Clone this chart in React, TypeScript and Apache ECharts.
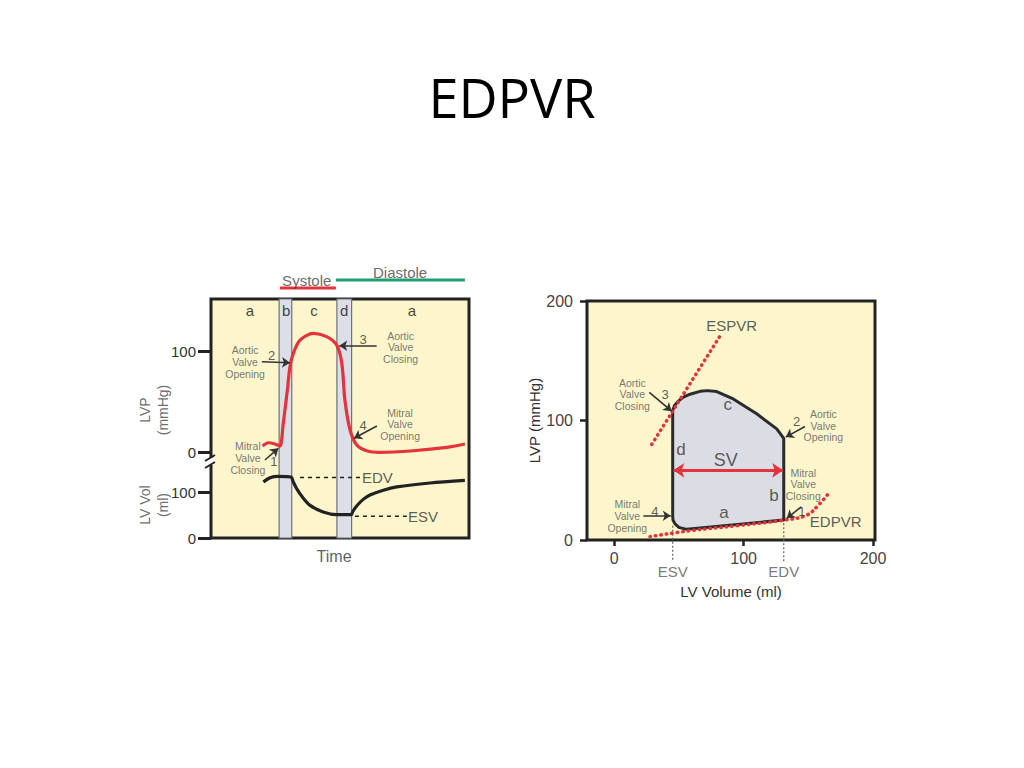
import React, { useEffect, useRef } from "react";
import * as echarts from "echarts";

// ---------- Left panel: LV pressure and LV volume against time ----------
const lvpTime = [20.0, 22.2, 24.8, 26.7, 28.0, 29.6, 30.6, 31.9, 34.5, 39.7, 44.8, 48.7, 50.7, 51.9, 53.9, 56.5, 60.3, 65.5, 78.4, 91.4, 98.4];
const lvpValues = [5.9, 9.2, 7.9, 5.9, 28.4, 61.4, 84.5, 97.7, 110.9, 117.5, 114.2, 105.9, 87.8, 51.5, 21.8, 6.9, 1.3, -0.3, 1.3, 4.6, 7.9];

const volTime = [20.3, 22.9, 26.1, 31.0, 31.9, 33.2, 35.2, 38.4, 43.5, 48.7, 54.3, 55.0, 56.6, 59.0, 61.6, 66.8, 72.0, 84.9, 98.4];
const volValues = [121.7, 131, 134, 132.6, 121.7, 107.4, 90.7, 71, 56.5, 50.8, 50.8, 58.0, 70.5, 84.0, 93.5, 104.0, 111, 119.6, 125.4];

const phaseBands = [
  { name: "b", from: 26.4, to: 31.3 },
  { name: "d", from: 48.8, to: 54.5 },
];
const phaseLetters = ["a", "b", "c", "d", "a"];
const phaseLetterTime = [15.1, 29.1, 39.9, 51.6, 77.9];

const edvLeft = 131.3;
const esvLeft = 47.2;

const lvpTicks = [0, 100];
const volTicks = [0, 100];

// ---------- Right panel: pressure-volume loop ----------
const loopVolume = [45.2, 45.2, 46.6, 49.5, 53.5, 58.6, 66.3, 72.0, 79.2, 92.0, 110.1, 125.6, 131.0, 131.0, 56.0, 50.0, 47.0, 45.5];
const loopPressure = [19.4, 108.3, 112.5, 116.2, 119.6, 122.0, 124.4, 125.0, 124.2, 118.0, 105.6, 93.0, 85.0, 16.7, 8.9, 10.6, 13.5, 16.5];

const espvrVolume = [29.0, 81.8];
const espvrPressure = [80, 170.8];

const edpvrVolume = [27.7, 58.6, 95, 131.5, 148.8, 159, 165.5];
const edpvrPressure = [2.8, 7.8, 12, 16.7, 20.8, 30.6, 38.9];

const esvRight = 45.2;
const edvRight = 131.0;
const svPressure = 58.3;

const pvTicks = [0, 100, 200];

// ---------- styles ----------
const FONT = "'Liberation Sans', Arial, sans-serif";
const RED = "#e5323b";
const GREEN = "#1f9e74";
const INK = "#222222";
const NOTE = "#555555";
const CREAM = "#fdf6cc";
const BAND = "#dcdfe7";

type Note = { x: number; y: number; text: string; size: number; color?: string; lh?: number; align?: string; rotate?: number };

function textSeries(xIdx: number, yIdx: number, items: Note[]) {
  return {
    type: "scatter",
    xAxisIndex: xIdx,
    yAxisIndex: yIdx,
    symbolSize: 0,
    clip: false,
    silent: true,
    z: 20,
    data: items.map((it) => ({
      value: [it.x, it.y],
      label: {
        show: true,
        position: "inside",
        formatter: it.text,
        fontSize: it.size,
        color: it.color ?? NOTE,
        fontFamily: FONT,
        lineHeight: it.lh ?? Math.round(it.size * 1.15),
        align: it.align ?? "center",
        verticalAlign: "middle",
        rotate: it.rotate ?? 0,
      },
    })),
  };
}

function arrowSeries(xIdx: number, yIdx: number, arrows: number[][][], color: string, width: number, both = false, size = 8) {
  return {
    type: "lines",
    coordinateSystem: "cartesian2d",
    xAxisIndex: xIdx,
    yAxisIndex: yIdx,
    silent: true,
    z: 15,
    symbol: both ? ["arrow", "arrow"] : ["none", "arrow"],
    symbolSize: size,
    lineStyle: { color, width, opacity: 1, curveness: 0 },
    data: arrows.map((a) => ({ coords: a })),
  };
}

function lineSeries(xIdx: number, yIdx: number, xs: number[], ys: number[], style: any, smooth: any = false, z = 5) {
  return {
    type: "line",
    xAxisIndex: xIdx,
    yAxisIndex: yIdx,
    data: xs.map((x, i) => [x, ys[i]]),
    showSymbol: false,
    symbol: "none",
    smooth,
    clip: false,
    silent: true,
    z,
    lineStyle: style,
  };
}

const tickLabel = { fontSize: 15, color: "#333", fontFamily: FONT };

export default function App() {
  const ref = useRef<HTMLDivElement>(null);

  useEffect(() => {
    document.body.style.margin = "0";
    if (!ref.current) return;
    const chart = echarts.init(ref.current, undefined, { renderer: "svg" });

    const option: any = {
      animation: false,
      backgroundColor: "#ffffff",
      grid: [
        { left: 211, top: 299, width: 258, height: 239, show: true, backgroundColor: CREAM, borderColor: INK, borderWidth: 3, z: 0 },
        { left: 211, top: 299, width: 258, height: 239, show: false },
        { left: 587, top: 301, width: 288, height: 239, show: true, backgroundColor: CREAM, borderColor: INK, borderWidth: 3, z: 0 },
      ],
      xAxis: [
        { gridIndex: 0, type: "value", min: 0, max: 100, show: false, axisLine: { onZero: false } },
        { gridIndex: 1, type: "value", min: 0, max: 100, show: false, axisLine: { onZero: false } },
        {
          gridIndex: 2, type: "value", min: -21, max: 201.5,
          axisLine: { show: false, onZero: false },
          splitLine: { show: false },
          axisTick: { show: true, length: 6, lineStyle: { color: INK, width: 2.5 }, customValues: pvTicks },
          axisLabel: { ...tickLabel, fontSize: 16, color: "#444", margin: 10, customValues: pvTicks },
          name: "LV Volume (ml)", nameLocation: "middle", nameGap: 44,
          nameTextStyle: { fontSize: 15, color: "#333", fontFamily: FONT },
        },
      ],
      yAxis: [
        {
          gridIndex: 0, type: "value", min: -85.1, max: 151.5,
          axisLine: { show: false, onZero: false }, splitLine: { show: false },
          axisTick: { show: true, length: 13, lineStyle: { color: INK, width: 3 }, customValues: lvpTicks },
          axisLabel: { ...tickLabel, margin: 15, customValues: lvpTicks },
        },
        {
          gridIndex: 1, type: "value", min: 0, max: 519.6,
          axisLine: { show: false, onZero: false }, splitLine: { show: false },
          axisTick: { show: true, length: 13, lineStyle: { color: INK, width: 3 }, customValues: volTicks },
          axisLabel: { ...tickLabel, margin: 15, customValues: volTicks },
        },
        {
          gridIndex: 2, type: "value", min: 0, max: 200,
          axisLine: { show: false, onZero: false }, splitLine: { show: false },
          axisTick: { show: true, length: 7, lineStyle: { color: INK, width: 2.5 }, customValues: pvTicks },
          axisLabel: { ...tickLabel, fontSize: 16, color: "#444", margin: 14, customValues: pvTicks },
          name: "LVP (mmHg)", nameLocation: "middle", nameGap: 42, nameRotate: 90,
          nameTextStyle: { fontSize: 15, color: "#333", fontFamily: FONT },
        },
      ],
      series: [
        // phase bands (b, d) + LVP trace
        {
          ...lineSeries(0, 0, lvpTime, lvpValues, { color: RED, width: 3.2 }, 0.3, 6),
          markArea: {
            silent: true,
            itemStyle: { color: BAND, borderColor: "#6f727a", borderWidth: 1.2 },
            data: phaseBands.map((b) => [{ xAxis: b.from }, { xAxis: b.to }]),
          },
        },
        // LV volume trace
        lineSeries(1, 1, volTime, volValues, { color: INK, width: 3.2 }, 0.3, 6),
        // EDV / ESV dashed guides
        lineSeries(1, 1, [34.5, 57.8], [edvLeft, edvLeft], { color: INK, width: 1.5, type: [4, 4] }),
        lineSeries(1, 1, [55.8, 75.9], [esvLeft, esvLeft], { color: INK, width: 1.5, type: [4, 4] }),
        // Systole / Diastole bars
        lineSeries(0, 0, [26.7, 48.4], [162.4, 162.4], { color: RED, width: 3 }),
        lineSeries(0, 0, [48.4, 98.4], [170.3, 170.3], { color: GREEN, width: 3 }),
        // left arrows
        arrowSeries(0, 0, [
          [[19.7, 89.4], [30.6, 88.4]],
          [[20.9, -7.9], [26.1, 3.7]],
          [[64.2, 105.2], [49.7, 105.2]],
          [[64.3, 25.7], [55.4, 13.6]],
        ], "#333", 1.6),
        // left texts
        textSeries(0, 0, [
          ...phaseLetters.map((l, i) => ({ x: phaseLetterTime[i], y: 139.9, text: l, size: 15, color: "#111" })),
          { x: 13.2, y: 89.1, text: "Aortic\nValve\nOpening", size: 10.5, lh: 11.7 },
          { x: 23.5, y: 96.0, text: "2", size: 13, color: "#333" },
          { x: 14.3, y: -5.8, text: "Mitral\nValve\nClosing", size: 10.5, lh: 11.7 },
          { x: 24.4, y: -9.6, text: "1", size: 13, color: "#333" },
          { x: 59.0, y: 111.6, text: "3", size: 13, color: "#333" },
          { x: 73.5, y: 103.7, text: "Aortic\nValve\nClosing", size: 10.5, lh: 11.7 },
          { x: 59.0, y: 26.7, text: "4", size: 13, color: "#333" },
          { x: 73.3, y: 27.4, text: "Mitral\nValve\nOpening", size: 10.5, lh: 11.7 },
          { x: 37.1, y: 169.6, text: "Systole", size: 15, color: "#444" },
          { x: 73.3, y: 177.5, text: "Diastole", size: 15, color: "#444" },
          { x: 47.7, y: -103.7, text: "Time", size: 16, color: "#333" },
          { x: -22.1, y: 41.6, text: "LVP\n(mmHg)", size: 14, color: "#444", lh: 18, rotate: 90 },
          { x: -22.1, y: -52.5, text: "LV Vol\n(ml)", size: 14, color: "#444", lh: 18, rotate: 90 },
        ]),
        textSeries(1, 1, [
          { x: 58.5, y: edvLeft, text: "EDV", size: 15, color: "#333", align: "left" },
          { x: 76.4, y: esvLeft, text: "ESV", size: 15, color: "#333", align: "left" },
        ]),
        // PV loop
        {
          type: "custom",
          xAxisIndex: 2,
          yAxisIndex: 2,
          silent: true,
          z: 4,
          data: [[loopVolume[0], loopPressure[0]]],
          renderItem: (_params: any, api: any) => ({
            type: "polygon",
            shape: { points: loopVolume.map((v, i) => api.coord([v, loopPressure[i]])) },
            style: { fill: "#dcdde4", stroke: "#2b2b2b", lineWidth: 3, lineJoin: "round" },
          }),
        },
        // ESV / EDV dotted guides
        lineSeries(2, 2, [esvRight, esvRight], [12, -18], { color: "#666", width: 1.2, type: [2, 2] }),
        lineSeries(2, 2, [edvRight, edvRight], [14, -18], { color: "#666", width: 1.2, type: [2, 2] }),
        // ESPVR / EDPVR
        lineSeries(2, 2, espvrVolume, espvrPressure, { color: RED, width: 3.5, type: [0.5, 5], cap: "round" }, false, 8),
        lineSeries(2, 2, edpvrVolume, edpvrPressure, { color: RED, width: 3.5, type: [0.5, 5], cap: "round" }, 0.4, 8),
        // SV arrow
        arrowSeries(2, 2, [[[esvRight + 0.5, svPressure], [edvRight - 0.5, svPressure]]], RED, 3, true, 11),
        // right arrows
        arrowSeries(2, 2, [
          [[27.1, 123.6], [44.4, 107.8]],
          [[147.4, 95], [132.5, 86.1]],
          [[144.5, 27.8], [133.3, 18.1]],
          [[22.5, 20.3], [43.7, 20.3]],
        ], "#333", 1.6),
        textSeries(2, 2, [
          { x: 14, y: 121.9, text: "Aortic\nValve\nClosing", size: 10.5, lh: 11.7 },
          { x: 39.3, y: 121.7, text: "3", size: 13, color: "#333" },
          { x: 161.6, y: 95.8, text: "Aortic\nValve\nOpening", size: 10.5, lh: 11.7 },
          { x: 141, y: 99.2, text: "2", size: 13, color: "#333" },
          { x: 146.1, y: 46.7, text: "Mitral\nValve\nClosing", size: 10.5, lh: 11.7 },
          { x: 144.9, y: 23.6, text: "1", size: 13, color: "#333" },
          { x: 10.1, y: 20.2, text: "Mitral\nValve\nOpening", size: 10.5, lh: 11.7 },
          { x: 31.5, y: 23.6, text: "4", size: 13, color: "#333" },
          { x: 90.8, y: 179.2, text: "ESPVR", size: 15, color: "#333" },
          { x: 171.1, y: 15.8, text: "EDPVR", size: 15, color: "#333" },
          { x: 86.2, y: 67.2, text: "SV", size: 18, color: "#333" },
          { x: 87.7, y: 113.1, text: "c", size: 17, color: "#333" },
          { x: 51.6, y: 75.6, text: "d", size: 17, color: "#333" },
          { x: 123.5, y: 37.5, text: "b", size: 17, color: "#333" },
          { x: 84.9, y: 22.8, text: "a", size: 17, color: "#333" },
          { x: esvRight, y: -26.4, text: "ESV", size: 15, color: "#555" },
          { x: edvRight, y: -26.4, text: "EDV", size: 15, color: "#555" },
        ]),
      ],
      graphic: [
        {
          type: "text",
          x: 512,
          y: 97,
          z: 100,
          style: { text: "EDPVR", font: "54px 'Open Sans', sans-serif", fill: "#000", textAlign: "center", textVerticalAlign: "middle" },
        },
        { type: "rect", z: 100, shape: { x: 208, y: 458, width: 7, height: 7 }, style: { fill: "#ffffff" } },
        { type: "line", z: 101, shape: { x1: 205, y1: 461, x2: 215, y2: 455 }, style: { stroke: INK, lineWidth: 2 } },
        { type: "line", z: 101, shape: { x1: 205, y1: 468, x2: 215, y2: 462 }, style: { stroke: INK, lineWidth: 2 } },
      ],
    };

    chart.setOption(option);
    return () => chart.dispose();
  }, []);

  return <div ref={ref} style={{ width: 1024, height: 768 }} />;
}
